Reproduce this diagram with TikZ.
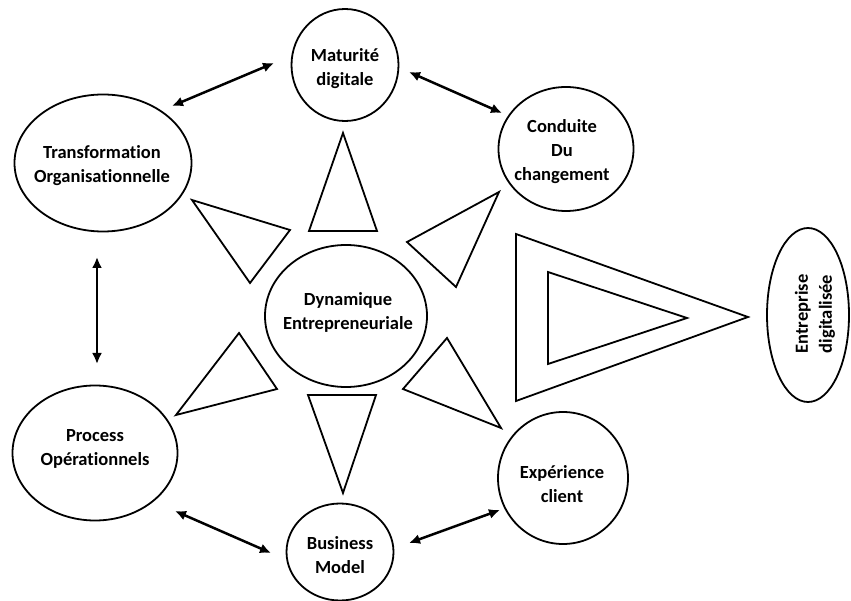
\documentclass[tikz,border=0pt]{standalone}
\usepackage{fontspec}
\setmainfont{Carlito}[Ligatures={NoCommon}]
\usetikzlibrary{shapes.geometric,arrows.meta}
\begin{document}
\begin{tikzpicture}[x=1pt,y=-1pt,
  ell/.style={draw, ellipse, line width=1.8pt, inner sep=0pt},
  lbl/.style={font=\bfseries\fontsize{18.5}{24}\selectfont, align=center, inner sep=0pt},
  tri/.style={draw, line width=1.8pt, line join=miter},
  dbl/.style={line width=2.5pt, {Latex[length=11pt,width=10pt]}-{Latex[length=11pt,width=10pt]}}]
\useasboundingbox (0,0) rectangle (851,601);
% ellipses
\node[ell, minimum width=107pt, minimum height=112pt] (mat) at (345,65) {};
\node[lbl] (matt) at (345,69) {Maturité\\digitale};
\node[ell, minimum width=177pt, minimum height=137pt] (tra) at (103,163) {};
\node[lbl] (trat) at (102,166) {Transformation\\Organisationnelle};
\node[ell, minimum width=135pt, minimum height=124pt] (con) at (566,149) {};
\node[lbl] (cont) at (562,152) {Conduite\\Du\\changement};
\node[ell, minimum width=162pt, minimum height=142pt] (dyn) at (346,316) {};
\node[lbl] (dynt) at (348,312) {Dynamique\\Entrepreneuriale};
\node[ell, minimum width=165pt, minimum height=135pt] (pro) at (95,453) {};
\node[lbl] (prot) at (95,449) {Process\\Opérationnels};
\node[ell, minimum width=107pt, minimum height=97pt] (bus) at (340,552) {};
\node[lbl] (bust) at (340,555) {Business\\Model};
\node[ell, minimum width=130pt, minimum height=132pt] (exp) at (563,478) {};
\node[lbl] (expt) at (562,484) {Expérience\\client};
\node[ell, minimum width=82pt, minimum height=174pt] (ent) at (808,315) {};
\node[lbl, rotate=90] (entt) at (815,314) {Entreprise\\digitalisée};
% triangles
\draw[tri] (343,133) -- (377,231) -- (309,231) -- cycle;
\draw[tri] (192,200) -- (290,230) -- (250,283) -- cycle;
\draw[tri] (499,192) -- (407,242) -- (456,287) -- cycle;
\draw[tri] (239,333) -- (277,389) -- (176,415) -- cycle;
\draw[tri] (447,338) -- (403,389) -- (501,428) -- cycle;
\draw[tri] (308,395) -- (376,395) -- (343,493) -- cycle;
\draw[tri] (516,234) -- (748,317) -- (516,401) -- cycle;
\draw[tri] (548,272) -- (687,318) -- (548,364) -- cycle;
% arrow ends
\coordinate (a1) at (274,63);
\coordinate (a2) at (172,106);
\coordinate (b1) at (409,72);
\coordinate (b2) at (502,113);
\coordinate (c1) at (97,257);
\coordinate (c2) at (97,364);
\coordinate (d1) at (175,511);
\coordinate (d2) at (271,553);
\coordinate (e1) at (409,543);
\coordinate (e2) at (500,510);
\draw[dbl] (a1) -- (a2);
\draw[dbl] (b1) -- (b2);
\draw[dbl] (c1) -- (c2);
\draw[dbl] (d1) -- (d2);
\draw[dbl] (e1) -- (e2);
\end{tikzpicture}
\end{document}
